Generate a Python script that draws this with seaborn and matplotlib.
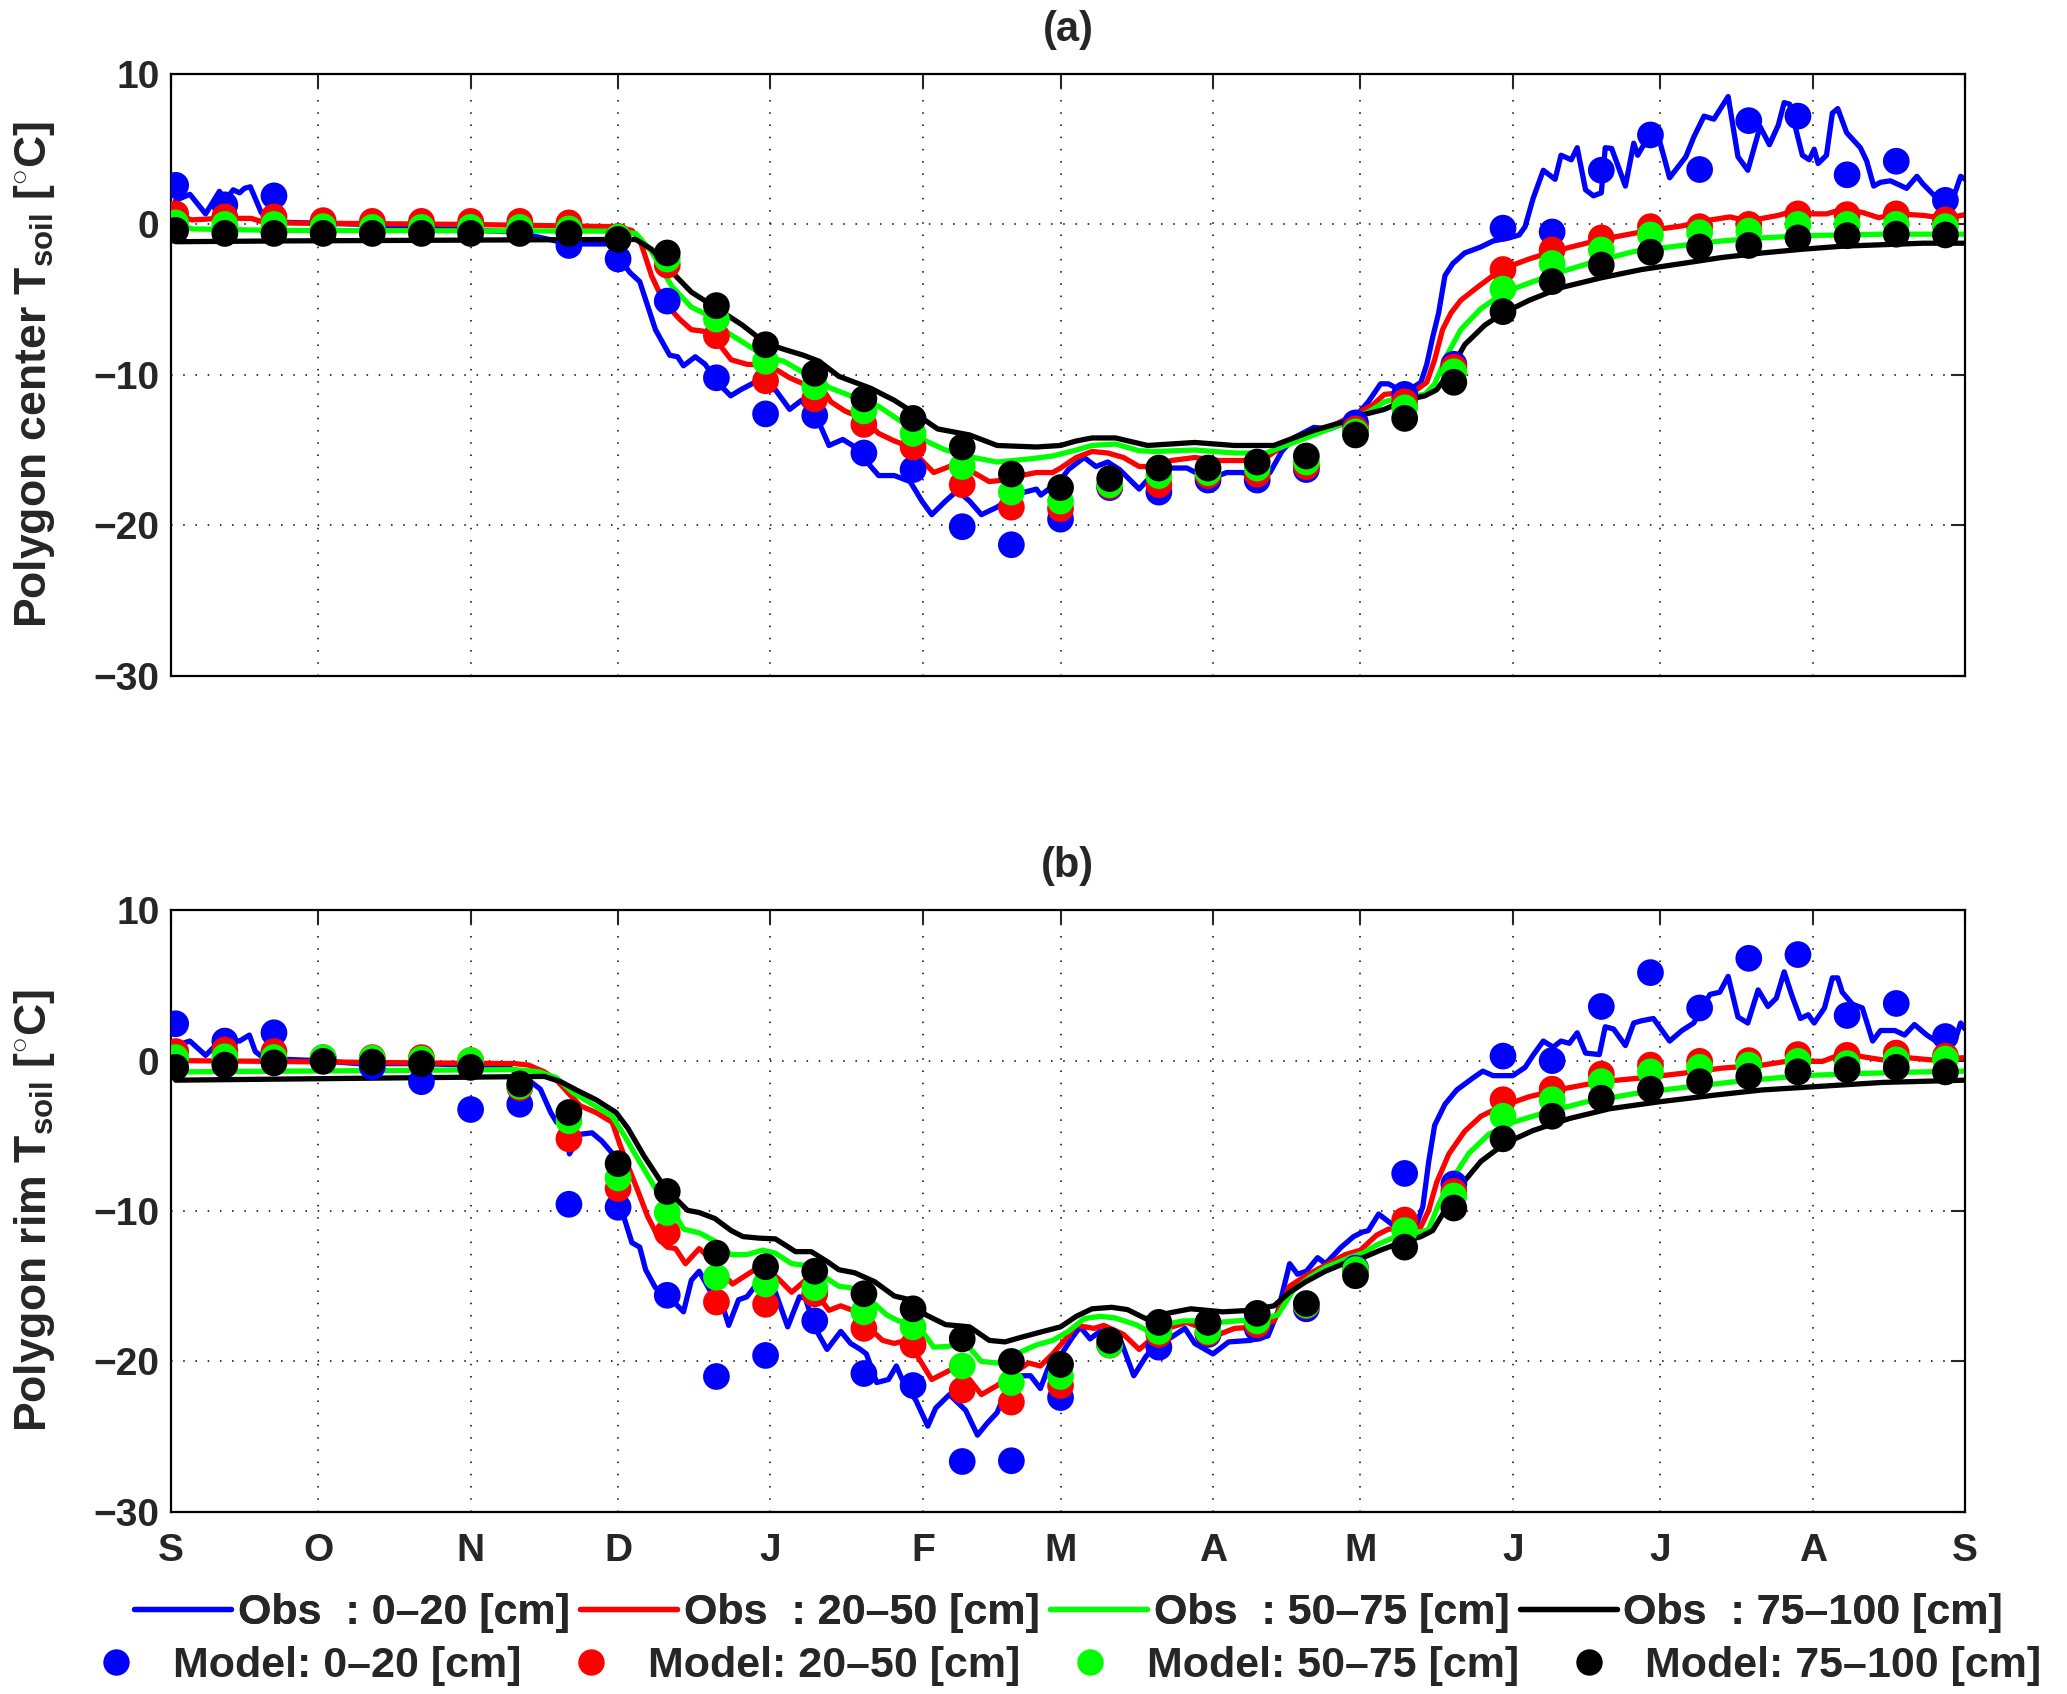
import numpy as np
import matplotlib
matplotlib.use("Agg")
import matplotlib.pyplot as plt
from matplotlib.lines import Line2D
import seaborn as sns

# ---------------- axis data ----------------
month_ticks = [0, 30, 61, 91, 122, 153, 181, 212, 242, 273, 303, 334, 365]
month_labels = ["S", "O", "N", "D", "J", "F", "M", "A", "M", "J", "J", "A", "S"]
y_ticks = [-30, -20, -10, 0, 10]

depth_labels = ["0\u201320 [cm]", "20\u201350 [cm]", "50\u201375 [cm]", "75\u2013100 [cm]"]
colors = ["#0000ff", "#ff0000", "#00ff00", "#000000"]

# model output every 10 days
model_days = [1, 11, 21, 31, 41, 51, 61, 71, 81, 91, 101, 111, 121, 131, 141, 151, 161, 171, 181, 191,
              201, 211, 221, 231, 241, 251, 261, 271, 281, 291, 301, 311, 321, 331, 341, 351, 361]

# ---------------- (a) polygon center ----------------
a_mod_0_20 = [2.6, 1.3, 1.9, 0.0, -0.1, -0.2, -0.3, -0.4, -1.4, -2.3,
              -5.1, -10.2, -12.6, -12.7, -15.2, -16.3, -20.1, -21.3, -19.6, -17.5,
              -17.8, -17.0, -17.0, -16.3, -13.2, -11.3, -9.3, -0.25, -0.5, 3.6,
              5.95, 3.65, 6.9, 7.2, 3.3, 4.2, 1.6]
a_mod_20_50 = [0.7, 0.5, 0.5, 0.25, 0.2, 0.2, 0.2, 0.2, 0.1, -0.8,
               -2.7, -7.4, -10.4, -11.6, -13.3, -14.8, -17.3, -18.8, -18.9, -17.4,
               -17.3, -16.7, -16.6, -16.1, -13.6, -11.8, -9.5, -3.0, -1.7, -0.9,
               -0.15, -0.15, 0.0, 0.7, 0.65, 0.7, 0.3]
a_mod_50_75 = [0.1, 0.0, 0.0, -0.15, -0.2, -0.2, -0.2, -0.2, -0.3, -0.85,
               -2.3, -6.3, -9.1, -10.8, -12.4, -13.9, -16.1, -17.8, -18.4, -17.3,
               -16.7, -16.5, -16.2, -15.8, -13.8, -12.2, -9.8, -4.3, -2.6, -1.7,
               -0.7, -0.55, -0.45, 0.0, 0.0, 0.0, -0.15]
a_mod_75_100 = [-0.4, -0.6, -0.6, -0.6, -0.6, -0.6, -0.6, -0.6, -0.6, -1.0,
                -1.9, -5.4, -8.0, -9.9, -11.6, -12.9, -14.8, -16.6, -17.5, -16.9,
                -16.2, -16.2, -15.8, -15.4, -14.0, -12.9, -10.5, -5.8, -3.8, -2.7,
                -1.85, -1.5, -1.4, -0.9, -0.75, -0.65, -0.7]

a_obs_days_0_20 = [1, 3.9, 7.1, 9.9, 11.1, 12.7, 14, 15, 16.2, 18.4, 19.6, 22, 40, 55, 70, 77, 81, 89,
                   91.4, 93.4, 95.4, 98.6, 101.5, 103.1, 104.3, 106.7, 108.7, 111.5, 113.9, 115.9,
                   118.8, 120.3, 123, 125.9, 128.3, 131.9, 133.9, 136.7, 138.7, 144, 147.2, 150.4,
                   152.8, 154.8, 157.6, 160, 162.5, 164.9, 168.1, 171.3, 173.7, 176.1, 177, 179.4,
                   181, 182.6, 185.8, 188.2, 190.6, 193, 197, 199.5, 203.5, 206.7, 209.1, 211.5,
                   214.8, 218, 221.2, 223.6, 226, 228.4, 232.5, 235.7, 238.9, 242, 243.6, 246.1,
                   247.7, 249.4, 251, 254.3, 255.5, 256.7, 257.9, 259.2, 260.8, 263.2, 266.5, 269,
                   272.2, 274.3, 275.5, 277.1, 279.2, 281.6, 282.8, 284.9, 286.1, 287.8, 289.4, 291,
                   291.8, 293.1, 295.9, 297.6, 298.4, 300, 302.9, 304.9, 308.2, 309.8, 311.9, 313.9,
                   316.8, 318.8, 320.8, 323.3, 325.2, 327, 328.2, 329.3, 331.9, 333.3, 334.3, 335.1,
                   336.8, 338, 339.1, 340.9, 343.7, 345, 346.4, 347.8, 349.8, 353.1, 355.2, 356.4,
                   358.8, 362.1, 364.1, 365]
a_obs_0_20 = [1.6, 2.0, 0.7, 2.2, 1.6, 2.3, 2.1, 2.4, 2.5, 0.8, 0.4, 0.15, 0.0, -0.3, -0.5, -1.0, -1.3, -1.3,
              -2.3, -3.2, -3.8, -7.0, -8.7, -8.8, -9.4, -8.8, -9.3, -10.6, -11.4, -11.0,
              -10.5, -10.9, -11.0, -12.3, -11.7, -13.2, -14.7, -14.3, -14.7, -16.7, -16.7, -17.1,
              -18.4, -19.3, -18.4, -17.7, -18.4, -19.3, -18.8, -18.1, -17.8, -17.6, -18.0, -17.4,
              -17.0, -16.3, -15.5, -16.1, -15.8, -16.3, -17.6, -16.7, -16.2, -16.2, -16.6, -16.9,
              -16.5, -16.5, -16.9, -16.5, -15.1, -14.2, -13.5, -13.6, -13.2, -12.4, -11.8, -10.6,
              -10.6, -10.9, -11.2, -10.5, -9.3, -7.5, -5.9, -3.4, -2.6, -1.9, -1.5, -1.1,
              -0.9, -0.7, -0.15, 1.7, 3.6, 3.0, 4.6, 4.3, 5.1, 2.3, 1.9, 2.1,
              5.1, 5.05, 2.55, 5.4, 4.6, 5.5, 5.5, 3.1, 4.5, 5.8, 7.2, 7.0,
              8.5, 4.5, 3.6, 6.5, 5.3, 6.6, 8.1, 8.0, 4.6, 4.3, 5.0, 4.05,
              4.6, 7.4, 7.7, 6.1, 5.1, 4.2, 2.55, 2.8, 2.9, 2.4, 3.2, 2.7,
              1.9, 1.3, 3.2, 3.0]

a_obs_days_20_50 = [1, 4.3, 10, 16.4, 18.8, 22, 60, 90.6, 93.8, 95.4, 97.8, 100.2, 103.5, 105.9, 108.3,
                    110.7, 114, 117.2, 120.4, 123.4, 125.9, 128.7, 131.9, 134.3, 137.1, 140.7, 144,
                    147.2, 150.4, 152.8, 155.2, 157.6, 160, 163.3, 166.5, 169.7, 172.9, 176.1, 179.4,
                    181, 184.2, 187.4, 190.6, 193.8, 197, 200.3, 203.5, 208.3, 213.2, 218, 222.8, 226,
                    230.9, 235.7, 240.5, 244.5, 246.9, 250.2, 253.4, 255.5, 257.1, 258.7, 260.4, 262.4,
                    265.7, 269, 271.4, 276.3, 281.2, 286.1, 291, 295.9, 300.8, 307.4, 312.3, 317.2,
                    320.4, 323.7, 327, 330.2, 333.5, 336.8, 340, 344.1, 347.4, 351.5, 356.4, 361.3, 365]
a_obs_20_50 = [0.65, 0.3, 0.4, 0.4, 0.15, 0.1, 0.0, -0.15, -0.4, -1.0, -3.4, -5.1, -6.3, -7.0, -7.1,
               -7.6, -9.0, -9.3, -9.35, -9.7, -10.2, -10.6, -10.6, -11.8, -12.4, -12.9, -13.9,
               -14.4, -14.8, -15.7, -16.5, -16.2, -15.9, -16.5, -17.1, -17.0, -16.7, -16.5, -16.5,
               -16.2, -15.5, -15.1, -15.2, -15.5, -16.1, -16.1, -15.7, -15.5, -15.7, -15.7, -15.5, -14.8,
               -14.0, -13.5, -12.7, -12.0, -11.3, -11.2, -11.0, -10.5, -9.0, -7.0, -5.9, -5.05,
               -4.2, -3.4, -2.9, -2.3, -1.8, -1.4, -1.0, -0.7, -0.4, -0.1, 0.25, 0.5,
               0.25, 0.4, 0.6, 0.9, 0.7, 0.7, 1.0, 0.8, 0.45, 0.7, 0.6, 0.4, 0.65]

a_obs_days_50_75 = [1, 4.3, 22, 90.6, 94.6, 97.8, 101.9, 105.9, 109.1, 112.3, 117.2, 121, 124.7, 127.9,
                    134.3, 140.7, 144, 150.4, 153.6, 157.6, 163.3, 168.1, 174.5, 179.4, 184.2, 187.4,
                    192.2, 197, 200.3, 208.3, 216.3, 222.8, 226, 230.9, 235.7, 240.5, 244, 246.9, 250.2,
                    255.1, 257.1, 259.6, 262.4, 266.5, 271.4, 276.3, 282.8, 289.4, 297.6, 307.4, 315.5,
                    323.7, 331.9, 340, 348.2, 365]
a_obs_50_75 = [0.05, -0.3, -0.4, -0.45, -0.6, -1.8, -4.1, -5.5, -6.0, -7.0, -8.0, -8.8, -9.1, -9.7,
               -10.9, -11.7, -12.1, -13.5, -14.4, -15.0, -15.5, -15.8, -15.6, -15.4, -15.0, -14.7,
               -14.6, -15.05, -15.1, -15.0, -15.2, -15.2, -14.8, -14.2, -13.6, -13.0, -12.4, -11.8, -11.5,
               -11.3, -10.6, -8.7, -7.0, -5.6, -4.5, -3.9, -3.15, -2.5, -1.8, -1.4, -1.1,
               -0.9, -0.75, -0.7, -0.65, -0.65]

a_obs_days_75_100 = [1, 22, 90.6, 94.6, 97.8, 101.9, 105.9, 110.7, 116.3, 121, 124.7, 128.7, 131.9,
                     135.9, 142.4, 147.2, 152, 156, 162.5, 168.1, 176.1, 181, 184.2, 187.4, 192.2, 198.7,
                     208.3, 216.3, 224.4, 227.6, 232.5, 238.9, 242, 246.9, 251, 255.1, 257.5, 260, 263.2,
                     267.3, 271, 276.3, 282.8, 291, 299.2, 307.4, 315.5, 323.7, 331.9, 340, 348.2,
                     356.4, 365]
a_obs_75_100 = [-1.15, -1.1, -1.0, -1.0, -1.65, -3.15, -4.5, -5.5, -6.7, -7.9, -8.3, -8.7, -9.1,
                -10.1, -10.9, -11.7, -12.7, -13.6, -14.0, -14.7, -14.8, -14.7, -14.4, -14.2, -14.2, -14.7,
                -14.5, -14.7, -14.7, -14.3, -13.7, -13.1, -12.7, -12.3, -11.7, -11.4, -11.0, -9.9, -8.0,
                -6.7, -5.9, -5.05, -4.2, -3.55, -3.0, -2.6, -2.2, -1.9, -1.65, -1.45, -1.35,
                -1.25, -1.25]

# ---------------- (b) polygon rim ----------------
b_mod_0_20 = [2.45, 1.3, 1.85, 0.1, -0.4, -1.4, -3.25, -2.9, -9.55, -9.75,
              -15.6, -21.0, -19.6, -17.3, -20.8, -21.6, -26.65, -26.6, -22.4, -18.9,
              -19.05, -18.2, -17.8, -16.5, -13.8, -7.5, -8.2, 0.3, 0.0, 3.6,
              5.85, 3.5, 6.8, 7.05, 3.0, 3.8, 1.6]
b_mod_20_50 = [0.6, 0.7, 0.6, 0.2, 0.2, 0.2, 0.0, -1.8, -5.2, -8.5,
               -11.45, -16.05, -16.2, -15.5, -17.8, -18.9, -21.9, -22.7, -21.6, -18.9,
               -18.2, -18.1, -17.55, -16.3, -13.9, -10.6, -8.7, -2.6, -1.9, -0.9,
               -0.3, -0.05, 0.0, 0.4, 0.35, 0.5, 0.3]
b_mod_50_75 = [0.2, 0.25, 0.2, 0.2, 0.15, 0.1, 0.0, -1.7, -4.0, -7.8,
               -10.1, -14.4, -14.85, -15.1, -16.7, -17.7, -20.3, -21.4, -21.0, -18.9,
               -18.0, -18.0, -17.3, -16.25, -13.9, -11.3, -9.0, -3.7, -2.6, -1.4,
               -0.75, -0.45, -0.3, -0.05, -0.2, 0.05, 0.1]
b_mod_75_100 = [-0.45, -0.3, -0.15, -0.05, -0.1, -0.2, -0.45, -1.55, -3.45, -6.85,
                -8.7, -12.8, -13.7, -14.0, -15.5, -16.5, -18.5, -20.0, -20.2, -18.6,
                -17.4, -17.4, -16.8, -16.15, -14.3, -12.4, -9.8, -5.2, -3.7, -2.5,
                -1.9, -1.4, -1.05, -0.75, -0.6, -0.45, -0.75]

b_obs_days_0_20 = [1, 3.9, 7.1, 9.1, 11, 12.5, 14, 16, 17.2, 18.8, 22, 30, 38, 50, 62, 68.8, 72.8, 75.2,
                   77.3, 78.5, 80, 81.1, 83.3, 85.7, 87.7, 89.8, 91.8, 93.8, 95.4, 96.6, 98.6, 101,
                   104.3, 105.9, 107.5, 109.9, 111.5, 113.5, 115.5, 117.2, 119.6, 121.3, 123, 125.5,
                   127.9, 129.1, 131.1, 133.5, 136.3, 138.3, 140.3, 141.5, 143.6, 146, 147.6, 148.8,
                   151.6, 154, 155.6, 158.4, 161.7, 164.1, 166.1, 168.1, 170.1, 172.9, 174.9, 176.9,
                   179, 181, 183.4, 185, 187, 189, 191, 193, 195.9, 198.3, 200.3, 203.5, 206.3, 208.3,
                   212, 215.2, 219.6, 223.2, 225.2, 227.6, 229.2, 231, 233.3, 234.9, 238.1, 240.6,
                   242.4, 243.6, 245.7, 248.5, 251, 253.4, 254.7, 255.9, 257.1, 259.2, 261.6, 264.9,
                   266.9, 269, 273, 275.5, 277.1, 279.2, 281.2, 282.8, 284.5, 286.1, 287.8, 290.6,
                   291.8, 293.5, 295.9, 297.6, 299.2, 301.6, 304.9, 307.4, 309.8, 313.1, 315.1, 316.8,
                   318.8, 320.8, 322.9, 324.9, 326.6, 328.2, 329.8, 331.5, 333.1, 334.3, 336.4, 338,
                   339.1, 340, 342.1, 344.1, 346.2, 347.8, 350.7, 352.7, 354.7, 357.2, 360.5, 362.9,
                   364.1, 365]
b_obs_0_20 = [1.0, 1.3, 0.35, 1.0, 1.2, 1.4, 1.3, 1.7, 0.6, 0.2, 0.1, 0.0, -0.2, -0.2, -0.3, -0.45, -1.3, -1.9,
              -3.45, -4.1, -3.85, -6.2, -4.9, -4.8, -5.35, -6.15, -10.0, -12.1, -12.4, -13.9, -15.1, -15.6,
              -16.7, -14.6, -14.0, -15.4, -15.5, -17.6, -15.9, -15.7, -14.7, -15.5, -15.4, -17.7,
              -15.7, -15.8, -17.8, -19.2, -18.0, -18.8, -19.2, -19.5, -21.4, -21.2, -20.3, -21.2,
              -22.6, -24.3, -23.1, -22.2, -23.25, -24.9, -24.1, -23.4, -21.8, -20.95, -20.95, -21.8,
              -20.0, -19.6, -18.4, -17.7, -18.5, -18.0, -17.9, -18.4, -20.95, -19.7, -18.9, -18.4, -17.8, -18.8,
              -19.5, -18.7, -18.6, -18.3, -16.7, -13.5, -14.2, -14.0, -13.1, -13.5, -12.4, -11.7,
              -11.4, -11.3, -10.2, -10.9, -11.0, -10.9, -9.7, -6.7, -4.3, -2.9, -1.95, -1.15,
              -0.7, -1.0, -1.0, -0.45, 0.35, 1.3, 0.9, 1.3, 1.15, 1.85, 0.5, 0.4,
              2.25, 2.1, 1.0, 2.5, 2.65, 2.8, 1.3, 2.0, 2.5, 4.4, 4.55, 5.6,
              2.9, 2.5, 4.7, 3.6, 4.15, 5.9, 4.3, 2.8, 3.05, 2.5, 3.5, 5.5,
              5.5, 4.55, 3.75, 3.5, 1.3, 2.0, 2.0, 1.7, 2.4, 1.7, 1.0, 1.3,
              2.5, 2.1]

b_obs_days_20_50 = [1, 20, 50, 70, 72.8, 76, 78.5, 81, 83.3, 86.5, 89.8, 91.4, 93, 94.6, 97, 99.4, 101,
                    102.7, 104.7, 107.5, 109.9, 112.3, 114.3, 116.4, 118.8, 121.2, 123.9, 126.3, 129.1,
                    131.1, 133.9, 136.3, 138.7, 141.5, 144.8, 147.2, 149.6, 152, 154.8, 157.2, 159.6,
                    162.5, 164.9, 168.1, 171.3, 174.5, 176.9, 179.4, 181.8, 184.2, 187.8, 189.8, 193.8,
                    197, 199.5, 202.7, 206.7, 209.1, 213.2, 216.4, 221.2, 224.4, 227.6, 230.9, 234.9,
                    238.9, 242, 245.3, 247.7, 250.2, 254.3, 255.9, 257.5, 260, 263.2, 266.5, 270.6,
                    276.3, 282.8, 291, 299.2, 307.4, 315.5, 323.7, 328.6, 336, 339.2, 343.3, 348.2,
                    353.1, 358, 365]
b_obs_20_50 = [0.0, -0.05, -0.15, -0.2, -0.3, -0.75, -1.3, -2.2, -3.0, -3.45, -4.1, -5.6, -7.0, -8.3,
               -10.35, -11.9, -12.4, -12.5, -13.5, -12.5, -13.2, -14.2, -14.85, -14.4, -13.9, -13.8,
               -14.6, -15.4, -14.6, -15.4, -16.6, -16.3, -16.6, -17.6, -18.6, -18.8, -18.6, -19.7,
               -21.2, -20.8, -20.4, -21.2, -22.2, -21.6, -20.8, -20.1, -20.3, -19.5, -18.6, -17.6,
               -17.8, -17.6, -18.2, -19.2, -18.5, -17.8, -17.4, -17.7, -18.2, -17.8, -17.7, -17.3,
               -15.0, -14.3, -13.6, -12.9, -12.6, -11.6, -11.2, -11.2, -11.05, -9.95, -8.1, -6.2,
               -4.7, -3.7, -3.05, -2.4, -1.9, -1.4, -1.15, -0.85, -0.5, -0.3, -0.05, -0.05, 0.35,
               0.3, 0.05, 0.2, 0.05, 0.2]

b_obs_days_50_75 = [1, 70, 75, 78.5, 81.7, 86.5, 89.8, 92.2, 94.6, 98.6, 101.9, 104.3, 107.5, 110.7,
                    114, 117.2, 120.4, 123, 126.3, 128.7, 130.5, 133.1, 135.9, 138.3, 141.5, 145.6, 148,
                    152, 155.2, 158, 161.7, 164.9, 168.1, 171.3, 176.1, 179.4, 182.6, 185.8, 189, 192,
                    196.3, 198.7, 202, 206, 209.2, 213.2, 217.2, 222, 225.2, 228.4, 231.7, 234.9, 239.7,
                    242.5, 245.3, 248.5, 252.6, 255.9, 257.9, 260.8, 264.1, 268.1, 273, 279.6, 287.8,
                    297.6, 307.4, 319.6, 331.9, 344.1, 356.4, 365]
b_obs_50_75 = [-0.75, -0.6, -0.75, -1.15, -2.1, -3.05, -3.7, -4.95, -6.3, -8.5, -9.8, -11.2, -11.45, -12.0,
               -12.9, -12.9, -12.6, -12.8, -13.5, -13.6, -13.5, -14.4, -15.0, -15.1, -15.65, -16.9, -17.3,
               -17.6, -19.05, -19.0, -18.8, -20.0, -20.1, -19.6, -18.9, -18.6, -18.0, -17.15, -17.0, -17.1,
               -17.55, -17.95, -17.55, -17.3, -17.3, -17.4, -17.3, -17.2, -16.9, -15.25, -14.4, -13.75, -13.1,
               -12.8, -12.25, -11.8, -11.65, -11.2, -9.55, -7.8, -6.15, -4.9, -4.1, -3.45, -2.75,
               -2.2, -1.8, -1.35, -1.0, -0.85, -0.75, -0.7]

b_obs_days_75_100 = [1, 76, 79.3, 82.5, 86.5, 90.6, 93, 96.2, 99.4, 101.9, 105.1, 107.5, 110.7, 114,
                     116.4, 119.6, 123, 127.1, 130.3, 133.5, 135.9, 139.1, 143.2, 147.2, 150.4, 153.6,
                     157.6, 162.5, 166.5, 169.7, 172.9, 176.9, 181, 184.2, 187.4, 191.4, 194.6, 198.3,
                     201.1, 207.5, 214, 219.6, 224.4, 227.6, 230.9, 234.9, 239.7, 242.5, 246.1, 250.2,
                     254.3, 256.7, 259.2, 262.4, 266.5, 271.4, 277.1, 284.5, 292.7, 302.5, 313.9, 323.7,
                     336, 348.2, 365]
b_obs_75_100 = [-1.3, -1.05, -1.4, -1.95, -2.6, -3.45, -4.5, -6.3, -7.9, -8.9, -9.95, -10.1, -10.5, -11.3,
                -11.7, -11.8, -11.85, -12.7, -12.7, -13.35, -13.9, -14.1, -14.7, -15.65, -15.9, -16.9,
                -17.55, -17.7, -18.6, -18.7, -18.4, -18.05, -17.7, -17.0, -16.5, -16.4, -16.55, -17.15,
                -16.9, -16.5, -16.7, -16.6, -16.3, -15.4, -14.7, -14.0, -13.35, -13.1, -12.6, -12.1,
                -11.7, -11.3, -9.95, -8.3, -6.7, -5.5, -4.65, -3.85, -3.2, -2.75, -2.3, -1.95,
                -1.7, -1.45, -1.3]

panels = [
    dict(title="(a)", ylabel=r"Polygon center T$_{\mathbf{soil}}$ [$^{\mathbf{\circ}}$C]",
         obs=[(a_obs_days_0_20, a_obs_0_20), (a_obs_days_20_50, a_obs_20_50),
              (a_obs_days_50_75, a_obs_50_75), (a_obs_days_75_100, a_obs_75_100)],
         mod=[a_mod_0_20, a_mod_20_50, a_mod_50_75, a_mod_75_100]),
    dict(title="(b)", ylabel=r"Polygon rim T$_{\mathbf{soil}}$ [$^{\mathbf{\circ}}$C]",
         obs=[(b_obs_days_0_20, b_obs_0_20), (b_obs_days_20_50, b_obs_20_50),
              (b_obs_days_50_75, b_obs_50_75), (b_obs_days_75_100, b_obs_75_100)],
         mod=[b_mod_0_20, b_mod_20_50, b_mod_50_75, b_mod_75_100]),
]

# ---------------- style ----------------
sns.set_style("white")
plt.rcParams["font.family"] = ["Liberation Sans", "DejaVu Sans"]
plt.rcParams["font.weight"] = "bold"
plt.rcParams["axes.labelweight"] = "bold"
plt.rcParams["axes.titleweight"] = "bold"
plt.rcParams["mathtext.fontset"] = "custom"
plt.rcParams["mathtext.rm"] = "Liberation Sans:bold"
plt.rcParams["mathtext.bf"] = "Liberation Sans:bold"
plt.rcParams["mathtext.it"] = "Liberation Sans:bold"
plt.rcParams["mathtext.sf"] = "Liberation Sans:bold"

FS_TICK = 28
FS_LAB = 32
FS_LEG = 31
LW = 3.8
fig = plt.figure(figsize=(20.67, 16.94), dpi=100)
ax_pos = [[0.0826, 0.6012, 0.8681, 0.3551], [0.0826, 0.1075, 0.8681, 0.3552]]

for i, p in enumerate(panels):
    ax = fig.add_axes(ax_pos[i])
    for (d, v), c in zip(p["obs"], colors):
        sns.lineplot(x=d, y=v, ax=ax, color=c, linewidth=LW, estimator=None, sort=False,
                     legend=False, zorder=2)
    for v, c in zip(p["mod"], colors):
        sns.scatterplot(x=model_days, y=v, ax=ax, color=c, s=370, edgecolor="none",
                        linewidth=0, legend=False, zorder=3)
    ax.set_xlim(0, 365)
    ax.set_ylim(-30, 10)
    ax.set_xticks(month_ticks)
    ax.set_yticks(y_ticks)
    ax.set_yticklabels([str(t).replace("-", "\u2212") for t in y_ticks])
    if i == 1:
        ax.set_xticklabels(month_labels)
    else:
        ax.set_xticklabels([])
    ax.set_axisbelow(True)
    ax.grid(True, linestyle=(0, (1, 7)), color="black", linewidth=1.1)
    ax.tick_params(direction="in", length=10, width=1.5, top=True, right=True,
                   labelsize=FS_TICK)
    ax.tick_params(axis="y", pad=8)
    ax.tick_params(axis="x", pad=15)
    for s in ax.spines.values():
        s.set_linewidth(1.6)
        s.set_color("black")
    ax.set_xlabel("")
    ax.set_ylabel(p["ylabel"], fontsize=FS_LAB, labelpad=26)
    ax.set_title(p["title"], fontsize=30, pad=24)

obs_handles = [Line2D([], [], color=c, linewidth=LW) for c in colors]
obs_labels = ["Obs  : " + lab for lab in depth_labels]
mod_handles = [Line2D([], [], color=c, linestyle="none", marker="o", markersize=19,
                      markeredgewidth=0) for c in colors]
mod_labels = ["Model: " + lab for lab in depth_labels]

leg1 = fig.legend(obs_handles, obs_labels, ncol=4, loc="center", bbox_to_anchor=(0.517, 0.0476),
                  frameon=False, fontsize=FS_LEG, handlelength=2.25, handletextpad=0.15,
                  columnspacing=0.25, borderaxespad=0, borderpad=0)
fig.add_artist(leg1)
leg2 = fig.legend(mod_handles, mod_labels, ncol=4, loc="center", bbox_to_anchor=(0.5157, 0.0166),
                  frameon=False, fontsize=FS_LEG, handlelength=1.2, handletextpad=0.72,
                  columnspacing=1.02, borderaxespad=0, borderpad=0)

fig.savefig("out.png", dpi=100)
